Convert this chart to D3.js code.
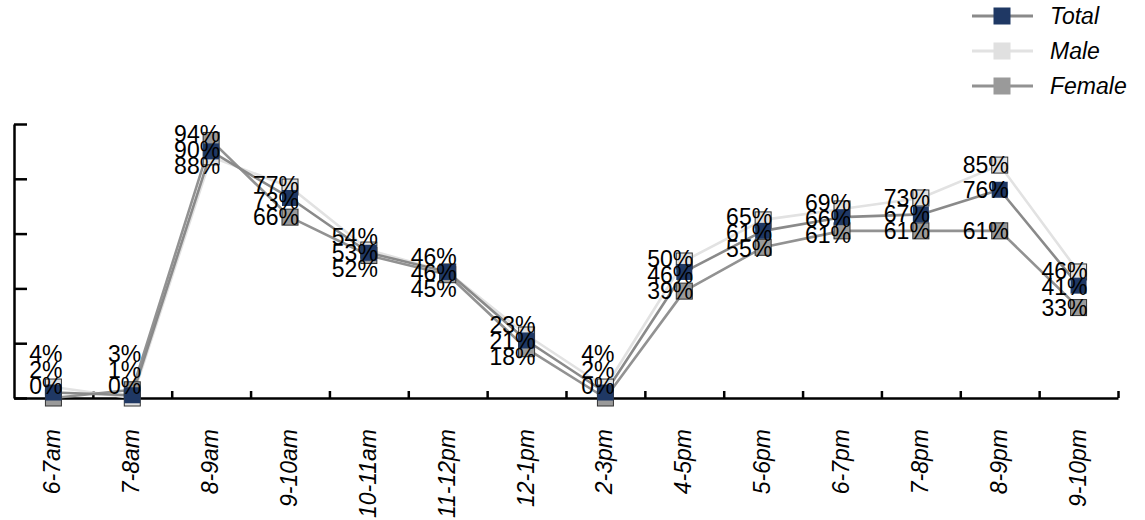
<!DOCTYPE html>
<html>
<head>
<meta charset="utf-8">
<script src="https://cdn.jsdelivr.net/npm/d3@7"></script>
<style>
  html, body { margin: 0; padding: 0; background: #fff; }
  svg { display: block; font-family: "Liberation Sans", Arial, Helvetica, sans-serif; }
</style>
</head>
<body>
<svg id="chart" width="1145" height="520"></svg>
<script>
// ---- data ----
const categories = ["6-7am", "7-8am", "8-9am", "9-10am", "10-11am", "11-12pm", "12-1pm",
                    "2-3pm", "4-5pm", "5-6pm", "6-7pm", "7-8pm", "8-9pm", "9-10pm"];
const totalValues  = [2, 1, 90, 73, 53, 46, 21, 2, 46, 61, 66, 67, 76, 41];
const maleValues   = [4, 0, 88, 77, 54, 46, 23, 4, 50, 65, 69, 73, 85, 46];
const femaleValues = [0, 3, 94, 66, 52, 45, 18, 0, 39, 55, 61, 61, 61, 33];
const seriesNames  = ["Total", "Male", "Female"];
const yTickValues  = [0, 20, 40, 60, 80, 100];

// ---- styles ----
const seriesStyle = {
  Total:  { line: "#8a8a8a", fill: "#1f3864", stroke: "none" },
  Male:   { line: "#e2e2e2", fill: "#e0e0e0", stroke: "#333" },
  Female: { line: "#929292", fill: "#9a9a9a", stroke: "#333" }
};
const series = [
  { name: "Total",  values: totalValues },
  { name: "Male",   values: maleValues },
  { name: "Female", values: femaleValues }
];

const svg = d3.select("#chart");
const plotLeft = 14, plotRight = 1118, plotTop = 124, plotBottom = 398;
const markerSize = 16;
const fontSize = 23;

const x = d3.scaleBand().domain(categories).range([plotLeft, plotRight]).padding(0);
const cx = c => x(c) + x.bandwidth() / 2;
const y = d3.scaleLinear().domain([0, 100]).range([plotBottom, plotTop]);
const xIndex = d3.scaleLinear().domain([0, categories.length]).range([plotLeft, plotRight]);

// ---- axes ----
const yAxis = d3.axisRight(y).tickValues(yTickValues).tickSize(13).tickSizeOuter(0).tickFormat("");
const gy = svg.append("g").attr("transform", `translate(${plotLeft},0)`).call(yAxis);
gy.selectAll("path, line").attr("stroke", "#000").attr("stroke-width", 2.5);

const xAxis = d3.axisTop(xIndex).tickValues(d3.range(1, categories.length + 1)).tickSize(7).tickSizeOuter(0).tickFormat("");
const gx = svg.append("g").attr("transform", `translate(0,${plotBottom})`).call(xAxis);
gx.selectAll("path, line").attr("stroke", "#000").attr("stroke-width", 2.5);

// category labels
svg.append("g").selectAll("text").data(categories).join("text")
  .attr("transform", d => `translate(${cx(d) - 1},${429}) rotate(-90)`)
  .attr("text-anchor", "end")
  .attr("dy", "0.35em")
  .attr("font-size", fontSize)
  .attr("font-style", "italic")
  .attr("fill", "#000")
  .text(d => d);

// ---- lines ----
const line = d3.line().x((d, i) => cx(categories[i])).y(d => y(d));
const drawOrder = ["Male", "Female", "Total"];
svg.append("g").selectAll("path").data(drawOrder.map(n => series.find(s => s.name === n))).join("path")
  .attr("d", s => line(s.values))
  .attr("fill", "none")
  .attr("stroke", s => seriesStyle[s.name].line)
  .attr("stroke-width", 2.6)
  .attr("stroke-linejoin", "round");

// ---- markers ----
drawOrder.forEach(n => {
  const s = series.find(d => d.name === n);
  svg.append("g").selectAll("rect").data(s.values).join("rect")
    .attr("x", (d, i) => cx(categories[i]) - markerSize / 2)
    .attr("y", d => y(d) - markerSize / 2)
    .attr("width", markerSize)
    .attr("height", markerSize)
    .attr("fill", seriesStyle[n].fill)
    .attr("stroke", seriesStyle[n].stroke)
    .attr("stroke-width", 1);
});

// ---- value labels with simple collision spreading ----
function spread(items, gap, maxY) {
  items.sort((a, b) => a.y0 - b.y0);
  let clusters = items.map(it => ({ items: [it] }));
  const mean = c => d3.mean(c.items, d => d.y0);
  let changed = true;
  while (changed) {
    changed = false;
    for (let i = 0; i < clusters.length - 1; i++) {
      const a = clusters[i], b = clusters[i + 1];
      const aBottom = mean(a) + (a.items.length - 1) * gap / 2;
      const bTop = mean(b) - (b.items.length - 1) * gap / 2;
      if (bTop - aBottom < gap) {
        clusters.splice(i, 2, { items: a.items.concat(b.items) });
        changed = true;
        break;
      }
    }
  }
  clusters.forEach(c => {
    const m = mean(c), n = c.items.length;
    c.items.forEach((it, k) => { it.y = m - (n - 1) * gap / 2 + k * gap; });
  });
  for (let i = items.length - 1; i >= 0; i--) {
    const limit = i === items.length - 1 ? maxY : items[i + 1].y - gap;
    items[i].y = Math.min(items[i].y, limit);
  }
  return items;
}

const labels = [];
categories.forEach((c, i) => {
  const items = series.map(s => ({ name: s.name, v: s.values[i], y0: y(s.values[i]), x: cx(c) }));
  spread(items, 16, 386).forEach(it => labels.push(it));
});

svg.append("g").selectAll("text").data(labels).join("text")
  .attr("x", d => d.x + 9)
  .attr("y", d => d.y)
  .attr("dy", "0.35em")
  .attr("text-anchor", "end")
  .attr("font-size", fontSize)
  .attr("fill", "#000")
  .text(d => d.v + "%");

// ---- legend ----
const legend = svg.append("g").attr("transform", "translate(972,0)");
const legendY = d3.scalePoint().domain(seriesNames).range([16, 86]);
const li = legend.selectAll("g").data(seriesNames).join("g")
  .attr("transform", d => `translate(0,${legendY(d)})`);
li.append("line").attr("x1", 0).attr("x2", 61).attr("y1", 0).attr("y2", 0)
  .attr("stroke", d => seriesStyle[d].line).attr("stroke-width", 3);
li.append("rect").attr("x", 30 - 8.5).attr("y", -8.5).attr("width", 17).attr("height", 17)
  .attr("fill", d => seriesStyle[d].fill);
li.append("text").attr("x", 78).attr("dy", "0.35em")
  .attr("font-size", fontSize).attr("font-style", "italic").attr("fill", "#000")
  .text(d => d);
</script>
</body>
</html>
